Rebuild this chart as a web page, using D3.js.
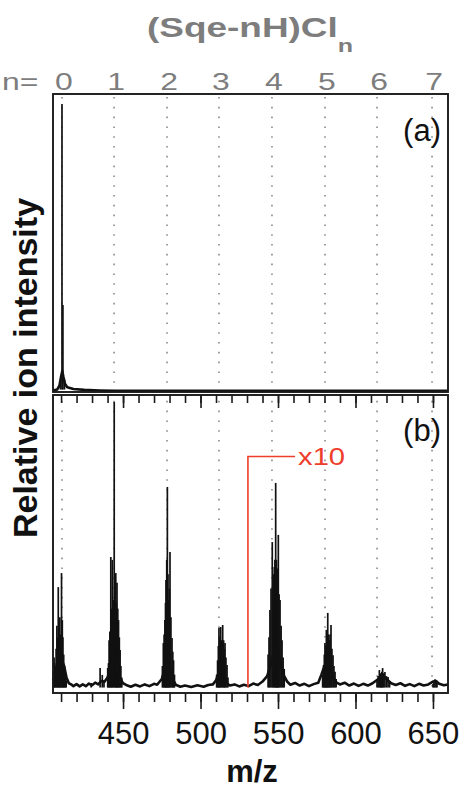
<!DOCTYPE html>
<html>
<head>
<meta charset="utf-8">
<script src="https://cdn.jsdelivr.net/npm/d3@7"></script>
<style>
  body { margin: 0; background: #fff; }
  text { font-family: "Liberation Sans", Arial, sans-serif; }
</style>
</head>
<body>
<svg id="chart" width="462" height="788"></svg>
<script>
// (Sqe-nH)Cl_n cluster positions (m/z) and their n labels
const nLabels = [0, 1, 2, 3, 4, 5, 6, 7];
const nPositions = [410.6, 444.2, 478.4, 511.9, 546.1, 580.3, 613.9, 649.4];
const xTickLabels = [450, 500, 550, 600, 650];

// panel (a): [m/z, relative intensity]
const envelopeA = [[404.8, 0.2], [407.5, 0.5], [409, 2], [410, 5], [410.8, 7], [411.5, 5],
  [412.5, 2.5], [414, 1.3], [418, 0.7], [425, 0.4], [435, 0.2], [445, 0.1], [659.7, 0.1]];
const sticksA = [[409.6, 3], [410.6, 100], [411.2, 30], [412.2, 4]];

// panel (b): [m/z, relative intensity], values beyond the x10 marker are shown magnified
const envelopeB = [[404.8, 3], [407, 6], [409, 9], [410.5, 10], [412, 8], [413.5, 4], [415, 2],
  [416.5, 1.6], [418, 1.0], [420, 1.7], [422, 0.9], [424, 1.6], [426, 1.0], [428, 1.9], [430, 1.3],
  [432, 2.2], [434, 1.6], [436, 2.8], [438, 2.5], [440, 4], [442, 7], [444, 10], [446, 8],
  [448, 4], [450, 2], [452, 1.4], [455, 0.8], [458, 1.5], [461, 0.9], [464, 1.6], [467, 1.0],
  [470, 1.8], [472, 1.5], [475, 3.5], [477, 7], [478.6, 9], [480, 7.5], [482, 3.5], [484, 1.5],
  [487, 0.8], [490, 1.2], [494, 0.7], [498, 1.3], [502, 0.8], [505, 1.4], [508, 1.6], [510, 3],
  [512.5, 7], [515, 5], [517, 2], [519, 1.2], [522, 1.6], [525, 0.9], [528, 1.5], [531, 1.0],
  [534, 1.9], [537, 1.4], [540, 2.6], [543, 4.5], [545, 8], [547, 12], [548.5, 13], [550, 12],
  [552, 8], [554, 4.5], [556, 2.5], [558, 1.5], [561, 2.1], [564, 1.2], [567, 1.8], [570, 1.0],
  [573, 1.7], [576, 2.2], [578, 5], [580, 8], [581.5, 9], [583, 8], [585, 5], [587, 2.5],
  [590, 1.6], [593, 2.2], [596, 1.2], [599, 1.9], [602, 1.1], [605, 1.8], [608, 1.2], [611, 2.0],
  [613, 2.8], [616, 4], [618, 4.5], [620, 3.5], [623, 2], [626, 1.4], [629, 2.0], [632, 1.1],
  [635, 1.7], [638, 1.0], [641, 1.8], [644, 1.2], [647, 1.6], [650, 2.6], [652, 2.8], [654, 1.8],
  [657, 1.3], [659.7, 1.6]];
const sticksB = [
  [405.0, 6], [405.5, 11], [405.9, 9], [406.3, 8], [406.8, 14], [407.3, 22], [407.8, 18], [408.2, 35.5],
  [408.7, 20], [409.2, 25], [409.7, 19], [410.3, 40.4], [410.8, 24], [411.2, 18], [411.7, 12],
  [412.2, 8], [412.8, 5], [413.3, 3],
  [429.4, 2.1], [435.2, 7.3], [436.6, 4.9], [437.7, 3.1], [440.1, 7.3],
  [440.6, 9], [441.0, 17], [441.5, 20], [442.1, 46], [442.6, 28], [443.1, 45], [443.7, 31], [444.3, 100],
  [444.8, 35], [445.3, 40.4], [445.7, 30], [446.1, 37], [446.6, 28], [447.1, 24], [447.6, 18],
  [448.1, 13.6], [448.6, 8], [449.2, 4],
  [475.4, 8], [476.0, 16], [476.5, 19], [477.0, 24], [477.4, 30], [477.7, 38], [478.2, 45], [478.6, 70.4],
  [479.0, 40], [479.4, 31], [479.9, 35], [480.3, 47.7], [480.9, 25], [481.6, 17.8], [482.1, 13],
  [482.6, 10], [483.2, 5],
  [510.4, 5], [511.0, 10], [511.5, 15], [511.9, 21.3], [512.4, 18], [513.0, 21.6], [513.6, 17],
  [514.3, 22.3], [514.9, 17], [515.4, 14], [515.8, 16], [516.4, 11], [517.1, 8.4], [517.7, 4],
  [543.6, 12], [544.2, 18], [544.8, 27.5], [545.5, 35], [546.3, 51.2], [546.9, 40], [547.6, 42.5],
  [548.0, 45], [548.5, 71.8], [549.0, 45], [549.4, 38], [549.8, 42], [550.2, 53.7], [550.7, 33],
  [551.3, 31], [552.0, 22], [552.6, 17], [553.3, 11], [554.0, 7],
  [578.8, 5], [579.4, 8.4], [579.9, 12], [580.3, 16], [580.8, 15], [581.2, 20.6], [581.7, 18],
  [582.1, 26.5], [582.6, 19], [583.1, 17], [583.6, 19], [584.2, 22.3], [584.8, 14], [585.5, 11.8],
  [586.1, 8], [586.8, 6], [587.5, 3.5],
  [613.9, 3.1], [614.6, 4.5], [615.4, 6.6], [616.0, 5.5], [616.5, 4.9], [617.0, 6], [617.5, 7.3],
  [618.2, 5.5], [619.0, 5.9], [620.0, 4.5], [621.0, 4.2], [622.0, 2.8],
  [650.0, 1.7], [650.6, 2.8], [651.3, 3.4], [652.0, 2.9], [652.6, 2.2]];

// x10 magnification marker
const zoomStart = 530.6, zoomEnd = 561, zoomLevel = 81, zoomText = "x10";

const svg = d3.select("#chart");
const left = 53, right = 448;
const aTop = 94, aBottom = 392, bTop = 395, bBottom = 693;
const grey = "#7d7d7d", ink = "#111";

const x = d3.scaleLinear().domain([404.8, 659.7]).range([left, right]);
const yA = d3.scaleLinear().domain([0, 100]).range([391, 104]);
const yB = d3.scaleLinear().domain([0, 100]).range([689, 402]);

// dotted guide lines for each n
svg.append("g").selectAll("line")
  .data(nPositions)
  .enter().append("line")
  .attr("x1", d => x(d)).attr("x2", d => x(d))
  .attr("y1", aTop + 3).attr("y2", bBottom - 2)
  .attr("stroke", "#8a8a8a")
  .attr("stroke-width", 1.6)
  .attr("stroke-dasharray", "1.6,8.2");

// title and n labels (the original lettering is horizontally stretched)
const title = svg.append("g").attr("transform", "translate(147,37) scale(1.32,1)")
  .append("text")
  .attr("font-size", 28).attr("font-weight", "bold")
  .attr("fill", grey);
title.append("tspan").text("(Sqe-nH)Cl");
title.append("tspan").attr("font-size", 19).attr("dy", 15).text("n");

svg.append("g").attr("transform", "translate(2,90) scale(1.33,1)")
  .append("text")
  .attr("font-size", 24).attr("fill", grey)
  .text("n=");
svg.append("g").selectAll("g")
  .data(nLabels)
  .enter().append("g")
  .attr("transform", (d, i) => `translate(${x(nPositions[i]) + 2},90) scale(1.33,1)`)
  .append("text")
  .attr("text-anchor", "middle")
  .attr("font-size", 24).attr("fill", grey)
  .text(d => d);

// spectra
function drawPanel(env, sticks, y) {
  const g = svg.append("g");
  g.selectAll("line")
    .data(sticks)
    .enter().append("line")
    .attr("x1", d => x(d[0])).attr("x2", d => x(d[0]))
    .attr("y1", y(0.5)).attr("y2", d => y(d[1]))
    .attr("stroke", ink)
    .attr("stroke-width", 1.7);
  g.append("path")
    .datum(env)
    .attr("fill", "none")
    .attr("stroke", ink)
    .attr("stroke-width", 2.6)
    .attr("stroke-linejoin", "round")
    .attr("d", d3.line().x(d => x(d[0])).y(d => y(d[1])));
}
drawPanel(envelopeA, sticksA, yA);
drawPanel(envelopeB, sticksB, yB);

// x10 marker
const red = "#ee3d2a";
svg.append("path")
  .attr("d", `M${x(zoomStart)},${yB(0.5)}V${yB(zoomLevel)}H${x(zoomEnd)}`)
  .attr("fill", "none").attr("stroke", red).attr("stroke-width", 1.6);
svg.append("g").attr("transform", `translate(${x(zoomEnd) + 3},${yB(zoomLevel) + 8}) scale(1.27,1)`)
  .append("text")
  .attr("font-size", 23).attr("fill", red)
  .text(zoomText);

// frames
[[aTop, aBottom], [bTop, bBottom]].forEach(([t, b]) => {
  svg.append("rect")
    .attr("x", left).attr("y", t)
    .attr("width", right - left).attr("height", b - t)
    .attr("fill", "none").attr("stroke", "#1a1a1a").attr("stroke-width", 1.9);
});

// ticks
const minorTicks = d3.range(410, 660, 10);
function tickRow(yPos, vals, size, labels) {
  const ax = d3.axisBottom(x).tickValues(vals).tickSize(size).tickPadding(13)
    .tickFormat(labels ? d3.format("d") : "");
  const g = svg.append("g").attr("transform", `translate(0,${yPos})`).call(ax);
  g.select(".domain").remove();
  g.selectAll("line").attr("stroke", "#1a1a1a").attr("stroke-width", 1.6);
  g.selectAll("text").attr("font-size", 31).attr("fill", ink)
    .style("font-family", '"Liberation Sans", Arial, sans-serif');
}
tickRow(bTop, minorTicks, 8, false);
tickRow(bTop, xTickLabels, 13, false);
tickRow(bBottom, minorTicks, 9, false);
tickRow(bBottom, xTickLabels, 16, true);

// panel labels
svg.append("text").attr("x", 441).attr("y", 141).attr("text-anchor", "end")
  .attr("font-size", 31).attr("fill", ink).text("(a)");
svg.append("text").attr("x", 441).attr("y", 441).attr("text-anchor", "end")
  .attr("font-size", 31).attr("fill", ink).text("(b)");

// axis titles
svg.append("text")
  .attr("transform", "translate(37,368) rotate(-90)")
  .attr("text-anchor", "middle")
  .attr("font-size", 34).attr("font-weight", "bold").attr("fill", ink)
  .text("Relative ion intensity");
svg.append("text")
  .attr("x", 252).attr("y", 782)
  .attr("text-anchor", "middle")
  .attr("font-size", 31).attr("font-weight", "bold").attr("fill", ink)
  .text("m/z");
</script>
</body>
</html>
